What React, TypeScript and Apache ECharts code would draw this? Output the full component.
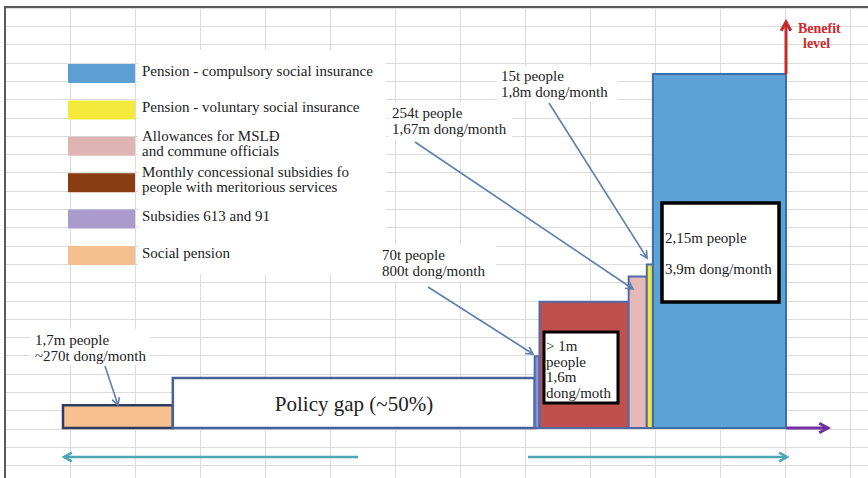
import React, { useEffect, useRef } from "react";
import * as echarts from "echarts";

// ---- data ----
const categories = [
  "Social pension",
  "Policy gap",
  "Subsidies 613 and 91",
  "Monthly concessional subsidies",
  "Allowances for MSLĐ and commune officials",
  "Pension - voluntary social insurance",
  "Pension - compulsory social insurance",
];
// bar widths ~ number of people (thousand), as drawn
const peopleThousand = [1700, 5600, 75, 1380, 280, 95, 2060];
// bar heights ~ benefit level (thousand dong / month), as drawn
const benefitThousandDong = [250, 550, 790, 1390, 1670, 1800, 3900];
const barFills = ["#f8c08f", "#ffffff", "#8d92d8", "#c0504d", "#e6b9b8", "#efe93c", "#5ea3d5"];
const barStrokes = ["#2f3c62", "#46609a", "#4f6aa5", "#4f6aa5", "#4f6aa5", "#4f6aa5", "#3e6ca8"];

const legendLabels = [
  "Pension - compulsory social insurance",
  "Pension - voluntary social insurance",
  "Allowances for MSLĐ\nand commune officials",
  "Monthly concessional subsidies fo\npeople with meritorious services",
  "Subsidies 613 and 91",
  "Social pension",
];
const legendColors = ["#5d9fd5", "#f3ea3b", "#dfb5b4", "#8a3c12", "#a99bcc", "#f5c08f"];

const annotations = [
  { lines: ["1,7m people", "~270t dong/month"] },
  { lines: ["70t people", "800t dong/month"] },
  { lines: ["254t people", "1,67m dong/month"] },
  { lines: ["15t people", "1,8m dong/month"] },
];
const redBoxLines = ["> 1m", "people", "1,6m", "dong/moth"];
const blueBoxLines = ["2,15m people", "3,9m dong/month"];

const SERIF = '"Liberation Serif", "Times New Roman", serif';

function arrow(x1: number, y1: number, x2: number, y2: number, color: string, w: number, head: number, z: number) {
  const a = Math.atan2(y2 - y1, x2 - x1);
  const s = 0.5;
  const p1 = [x2 - head * Math.cos(a - s), y2 - head * Math.sin(a - s)];
  const p2 = [x2 - head * Math.cos(a + s), y2 - head * Math.sin(a + s)];
  return [
    { type: "line", z, shape: { x1, y1, x2, y2 }, style: { stroke: color, lineWidth: w } },
    {
      type: "polyline",
      z,
      shape: { points: [p1, [x2, y2], p2] },
      style: { stroke: color, lineWidth: w, fill: null, lineJoin: "miter" },
    },
  ];
}

function textEl(x: number, y: number, text: string, size: number, z: number, extra: any = {}) {
  return {
    type: "text",
    z,
    x,
    y,
    style: {
      text,
      fontFamily: SERIF,
      fontSize: size,
      fill: "#222222",
      verticalAlign: "middle",
      align: "left",
      ...extra,
    },
  };
}

export default function App() {
  const ref = useRef<HTMLDivElement>(null);
  useEffect(() => {
    if (!ref.current) return;
    const chart = echarts.init(ref.current, undefined, { renderer: "svg" });

    const starts: number[] = [];
    let acc = 0;
    peopleThousand.forEach((w) => {
      starts.push(acc);
      acc += w;
    });
    const total = acc;

    const series: any[] = categories.map((name, i) => ({
      type: "custom",
      name,
      coordinateSystem: "cartesian2d",
      xAxisIndex: 1,
      yAxisIndex: 1,
      z: 3,
      encode: { x: [0, 1], y: 2 },
      data: [[starts[i], starts[i] + peopleThousand[i], benefitThousandDong[i]]],
      renderItem: (params: any, api: any) => {
        const tl = api.coord([api.value(0), api.value(2)]);
        const br = api.coord([api.value(1), 0]);
        return {
          type: "rect",
          shape: { x: tl[0], y: tl[1], width: br[0] - tl[0], height: br[1] - tl[1] },
          style: { fill: barFills[i], stroke: barStrokes[i], lineWidth: i < 2 ? 2.5 : 2 },
        };
      },
    }));

    const g: any[] = [];
    // white text-box backgrounds covering the sheet grid
    g.push({ type: "rect", z: 1, shape: { x: 138, y: 50, width: 248, height: 224 }, style: { fill: "#fff" } });
    g.push({ type: "rect", z: 1, shape: { x: 30, y: 329, width: 120, height: 36 }, style: { fill: "#fff" } });
    g.push({ type: "rect", z: 1, shape: { x: 378, y: 245, width: 118, height: 36 }, style: { fill: "#fff" } });
    g.push({ type: "rect", z: 1, shape: { x: 388, y: 103, width: 124, height: 36 }, style: { fill: "#fff" } });
    g.push({ type: "rect", z: 1, shape: { x: 497, y: 66, width: 120, height: 35 }, style: { fill: "#fff" } });

    // frame
    g.push({ type: "line", z: 6, shape: { x1: 5, y1: 7, x2: 5, y2: 478 }, style: { stroke: "#5a5a5a", lineWidth: 2 } });
    g.push({ type: "line", z: 6, shape: { x1: 4, y1: 7, x2: 868, y2: 7 }, style: { stroke: "#5a5a5a", lineWidth: 2 } });

    // legend
    legendLabels.forEach((label, i) => {
      const top = 64 + i * 36.4;
      g.push({ type: "rect", z: 4, shape: { x: 68, y: top, width: 67, height: 19 }, style: { fill: legendColors[i] } });
      g.push(textEl(142, top + 6.5, label, 15, 4, { lineHeight: 15 }));
    });

    // annotations
    const annPos = [
      [35, 340],
      [382, 255],
      [392, 113],
      [501, 76],
    ];
    annotations.forEach((a, i) => {
      g.push(textEl(annPos[i][0], annPos[i][1] - 8, a.lines.join("\n"), 15, 5, { verticalAlign: "top", lineHeight: 16 }));
    });
    const annColor = "#5b7fae";
    g.push(...arrow(105, 366, 118, 405, annColor, 1.6, 8, 5));
    g.push(...arrow(428, 287, 533, 354, annColor, 1.6, 8, 5));
    g.push(...arrow(415, 142, 633, 289, annColor, 1.6, 8, 5));
    g.push(...arrow(549, 103, 647, 258, annColor, 1.6, 8, 5));

    // axes arrows
    g.push(...arrow(786, 74, 786, 22, "#c62a2d", 3, 10, 5));
    g.push(...arrow(786, 428, 828, 428, "#7030a0", 3, 10, 5));
    g.push(...arrow(358, 457, 64, 457, "#4ea7b7", 2.5, 9, 5));
    g.push(...arrow(528, 457, 787, 457, "#4ea7b7", 2.5, 9, 5));
    g.push({
      type: "text",
      z: 5,
      x: 798,
      y: 28,
      style: { text: "Benefit", fontFamily: SERIF, fontSize: 14, fontWeight: "bold", fill: "#d0282c", verticalAlign: "middle" },
    });
    g.push({
      type: "text",
      z: 5,
      x: 803,
      y: 43,
      style: { text: "level", fontFamily: SERIF, fontSize: 14, fontWeight: "bold", fill: "#d0282c", verticalAlign: "middle" },
    });

    // policy gap label
    g.push({
      type: "text",
      z: 5,
      x: 354,
      y: 404,
      style: { text: "Policy gap (~50%)", fontFamily: SERIF, fontSize: 21, fill: "#222", align: "center", verticalAlign: "middle" },
    });

    // text boxes in bars
    g.push({ type: "rect", z: 5, shape: { x: 544, y: 332, width: 74, height: 71 }, style: { fill: "#fff", stroke: "#000", lineWidth: 3 } });
    g.push(textEl(546, 338, redBoxLines.join("\n"), 15, 6, { verticalAlign: "top", lineHeight: 15.7 }));
    g.push({ type: "rect", z: 5, shape: { x: 662, y: 203, width: 117, height: 99 }, style: { fill: "#fff", stroke: "#000", lineWidth: 3.5 } });
    g.push(textEl(665, 238, blueBoxLines[0], 15, 6));
    g.push(textEl(665, 269, blueBoxLines[1], 15, 6));

    const hidden = { axisLine: { show: false }, axisTick: { show: false }, axisLabel: { show: false } };

    chart.setOption({
      animation: false,
      backgroundColor: "#ffffff",
      grid: [
        { left: 5, right: 0, top: 8, bottom: 0 },
        { left: 63, right: 82, top: 74, bottom: 50 },
      ],
      xAxis: [
        { type: "value", gridIndex: 0, min: 0, max: 863, interval: 65, ...hidden, splitLine: { lineStyle: { color: "#dcdcdc", width: 1 } } },
        { type: "value", gridIndex: 1, min: 0, max: total, show: false, splitLine: { show: false } },
      ],
      yAxis: [
        { type: "value", gridIndex: 0, inverse: true, min: 0, max: 470, interval: 18.3, ...hidden, splitLine: { lineStyle: { color: "#dcdcdc", width: 1 } } },
        { type: "value", gridIndex: 1, min: 0, max: 3900, show: false, splitLine: { show: false } },
      ],
      series,
      graphic: { elements: g },
    });
    return () => chart.dispose();
  }, []);
  return <div ref={ref} style={{ position: "fixed", left: 0, top: 0, width: 868, height: 478 }} />;
}
